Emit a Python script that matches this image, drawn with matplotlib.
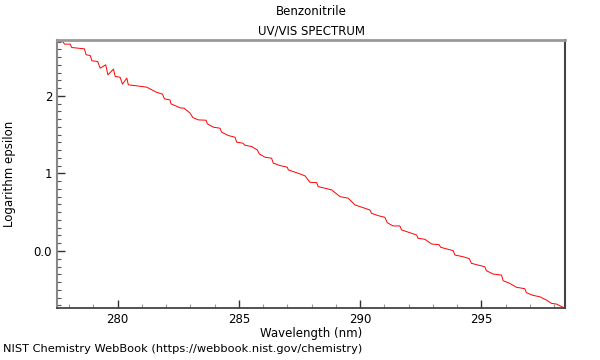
import matplotlib
matplotlib.use('Agg')
import matplotlib.pyplot as plt
from matplotlib.ticker import MultipleLocator, FixedLocator, FixedFormatter

wavelength = [277.51, 277.73, 277.81, 278.04, 278.11, 278.36, 278.63, 278.70, 278.87, 278.94,
              279.18, 279.28, 279.51, 279.60, 279.83, 279.90, 280.10, 280.20, 280.38, 280.44,
              280.79, 281.20, 281.41, 281.59, 281.85, 281.93, 282.16, 282.20, 282.58, 282.74,
              282.99, 283.10, 283.33, 283.65, 283.70, 283.95, 284.22, 284.29, 284.57, 284.84,
              284.91, 285.16, 285.25, 285.53, 285.76, 285.84, 286.08, 286.35, 286.42, 286.70,
              287.00, 287.04, 287.52, 287.73, 287.93, 288.21, 288.27, 288.55, 288.83, 289.17,
              289.51, 289.79, 290.40, 290.47, 290.75, 291.02, 291.12, 291.36, 291.64, 291.71,
              292.05, 292.33, 292.39, 292.67, 292.95, 293.26, 293.32, 293.84, 293.91, 294.25,
              294.50, 294.59, 295.14, 295.21, 295.48, 295.83, 295.90, 296.17, 296.45, 296.79,
              296.86, 297.13, 297.41, 297.68, 297.89, 298.10, 298.37, 298.44]
log_eps = [2.710, 2.701, 2.667, 2.667, 2.623, 2.615, 2.606, 2.529, 2.520, 2.452,
           2.443, 2.357, 2.400, 2.271, 2.345, 2.249, 2.241, 2.151, 2.228, 2.142,
           2.129, 2.112, 2.077, 2.048, 2.022, 1.961, 1.948, 1.897, 1.845, 1.841,
           1.777, 1.720, 1.690, 1.686, 1.639, 1.596, 1.583, 1.532, 1.488, 1.467,
           1.403, 1.390, 1.364, 1.346, 1.303, 1.252, 1.209, 1.196, 1.132, 1.101,
           1.080, 1.045, 0.994, 0.968, 0.886, 0.881, 0.830, 0.809, 0.787, 0.701,
           0.680, 0.594, 0.529, 0.486, 0.455, 0.435, 0.365, 0.323, 0.323, 0.271,
           0.236, 0.206, 0.164, 0.151, 0.090, 0.081, 0.048, 0.004, -0.052, -0.074,
           -0.099, -0.159, -0.203, -0.254, -0.297, -0.310, -0.383, -0.417, -0.468, -0.486,
           -0.538, -0.572, -0.590, -0.632, -0.675, -0.684, -0.726, -0.739]

x_ticks = [280, 285, 290, 295]
y_ticks = [0, 1, 2]
y_tick_labels = ['0.0', '1', '2']

fig = plt.figure(figsize=(6, 3.6), dpi=100)
ax = fig.add_axes([0.095, 0.1444, 0.8467, 0.7445])

ax.plot(wavelength, log_eps, color='red', lw=0.7)

ax.set_xlim(277.5, 298.45)
ax.set_ylim(-0.735, 2.72)

ax.xaxis.set_major_locator(FixedLocator(x_ticks))
ax.xaxis.set_minor_locator(MultipleLocator(1))
ax.yaxis.set_major_locator(FixedLocator(y_ticks))
ax.yaxis.set_major_formatter(FixedFormatter(y_tick_labels))
ax.yaxis.set_minor_locator(MultipleLocator(0.1))

ax.tick_params(which='both', direction='in', top=False, right=False, labelsize=8.5, color='#333333')
ax.tick_params(which='major', length=6, width=1)
ax.tick_params(axis='y', which='minor', length=3, width=0.8, color='#555555')
ax.tick_params(axis='x', which='minor', length=3, width=0.8, color='#999999')

ax.spines['top'].set_color('#999999')
ax.spines['top'].set_linewidth(2)
ax.spines['left'].set_color('#888888')
ax.spines['left'].set_linewidth(1.5)
ax.spines['bottom'].set_color('#444444')
ax.spines['bottom'].set_linewidth(1.3)
ax.spines['right'].set_color('#444444')
ax.spines['right'].set_linewidth(1.5)

ax.set_xlabel('Wavelength (nm)', fontsize=8.5, labelpad=1)
ax.set_ylabel('Logarithm epsilon', fontsize=8.5, labelpad=13)
ax.set_title('Benzonitrile\nUV/VIS SPECTRUM', fontsize=8.5, pad=4, linespacing=1.6)

fig.text(0.005, 0.022, 'NIST Chemistry WebBook (https://webbook.nist.gov/chemistry)', fontsize=8.2)

fig.savefig('out.png', dpi=100)
